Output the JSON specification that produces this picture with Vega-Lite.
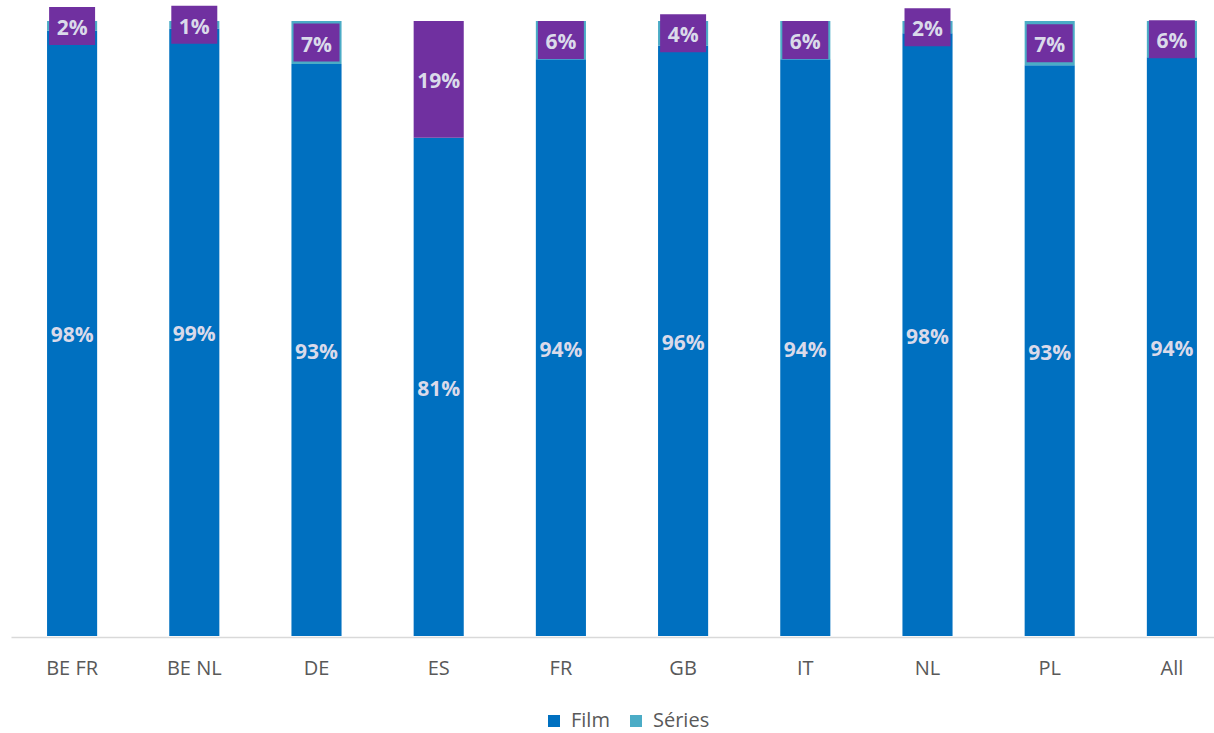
{
  "$schema": "https://vega.github.io/schema/vega-lite/v6.json",
  "width": 1203,
  "height": 615,
  "autosize": {"type": "none"},
  "padding": {"left": 11, "top": 21, "right": 0, "bottom": 97},
  "background": "white",
  "config": {"view": {"stroke": null}, "font": "Open Sans"},
  "data": {
    "values": [
      {"country": "BE FR", "type": "Film", "value": 0.984},
      {"country": "BE FR", "type": "Séries", "value": 0.016},
      {"country": "BE NL", "type": "Film", "value": 0.988},
      {"country": "BE NL", "type": "Séries", "value": 0.012},
      {"country": "DE", "type": "Film", "value": 0.93},
      {"country": "DE", "type": "Séries", "value": 0.07},
      {"country": "ES", "type": "Film", "value": 0.81},
      {"country": "ES", "type": "Séries", "value": 0.19},
      {"country": "FR", "type": "Film", "value": 0.938},
      {"country": "FR", "type": "Séries", "value": 0.062},
      {"country": "GB", "type": "Film", "value": 0.96},
      {"country": "GB", "type": "Séries", "value": 0.04},
      {"country": "IT", "type": "Film", "value": 0.938},
      {"country": "IT", "type": "Séries", "value": 0.062},
      {"country": "NL", "type": "Film", "value": 0.98},
      {"country": "NL", "type": "Séries", "value": 0.02},
      {"country": "PL", "type": "Film", "value": 0.928},
      {"country": "PL", "type": "Séries", "value": 0.072},
      {"country": "All", "type": "Film", "value": 0.941},
      {"country": "All", "type": "Séries", "value": 0.059}
    ]
  },
  "encoding": {
    "x": {
      "field": "country",
      "type": "nominal",
      "sort": null,
      "title": null,
      "scale": {"range": [0, 1222], "paddingInner": 0.59, "paddingOuter": 0.295},
      "axis": {
        "labelAngle": 0,
        "labelFontSize": 20,
        "labelColor": "#595959",
        "labelPadding": 21,
        "ticks": false,
        "grid": false,
        "domainColor": "#D9D9D9",
        "domainWidth": 1.5,
        "offset": 1
      }
    },
    "order": {"field": "type", "sort": "ascending"}
  },
  "layer": [
    {
      "mark": {"type": "bar"},
      "encoding": {
        "y": {"field": "value", "type": "quantitative", "stack": "zero", "scale": {"domain": [0, 1]}, "axis": null},
        "color": {
          "field": "type",
          "type": "nominal",
          "scale": {"domain": ["Film", "Séries"], "range": ["#0070C0", "#4BACC6"]},
          "condition": {"test": "datum.country === 'ES' && datum.type === 'Séries'", "value": "#7030A0"},
          "legend": {
            "title": null,
            "orient": "none",
            "legendX": 533,
            "legendY": 690,
            "direction": "horizontal",
            "symbolType": "square",
            "symbolSize": 144,
            "symbolStrokeWidth": 0,
            "labelFontSize": 20,
            "labelColor": "#595959",
            "labelOffset": 7,
            "columnPadding": 16
          }
        }
      }
    },
    {
      "mark": {"type": "point", "shape": "M-1.21,-1H1.21V1H-1.21Z", "filled": true, "size": 1444, "color": "#7030A0", "strokeWidth": 0},
      "encoding": {
        "y": {"field": "value", "type": "quantitative", "stack": "zero", "bandPosition": 0.5},
        "detail": {"field": "type"},
        "opacity": {"condition": {"test": "datum.type === 'Séries'", "value": 1}, "value": 0}
      }
    },
    {
      "mark": {"type": "text", "fontSize": 21, "fontWeight": "bold", "color": "#DADAEA", "baseline": "middle", "align": "center", "dy": 3},
      "encoding": {
        "y": {"field": "value", "type": "quantitative", "stack": "zero", "bandPosition": 0.5},
        "detail": {"field": "type"},
        "text": {"field": "value", "type": "quantitative", "format": ".0%"}
      }
    }
  ]
}
